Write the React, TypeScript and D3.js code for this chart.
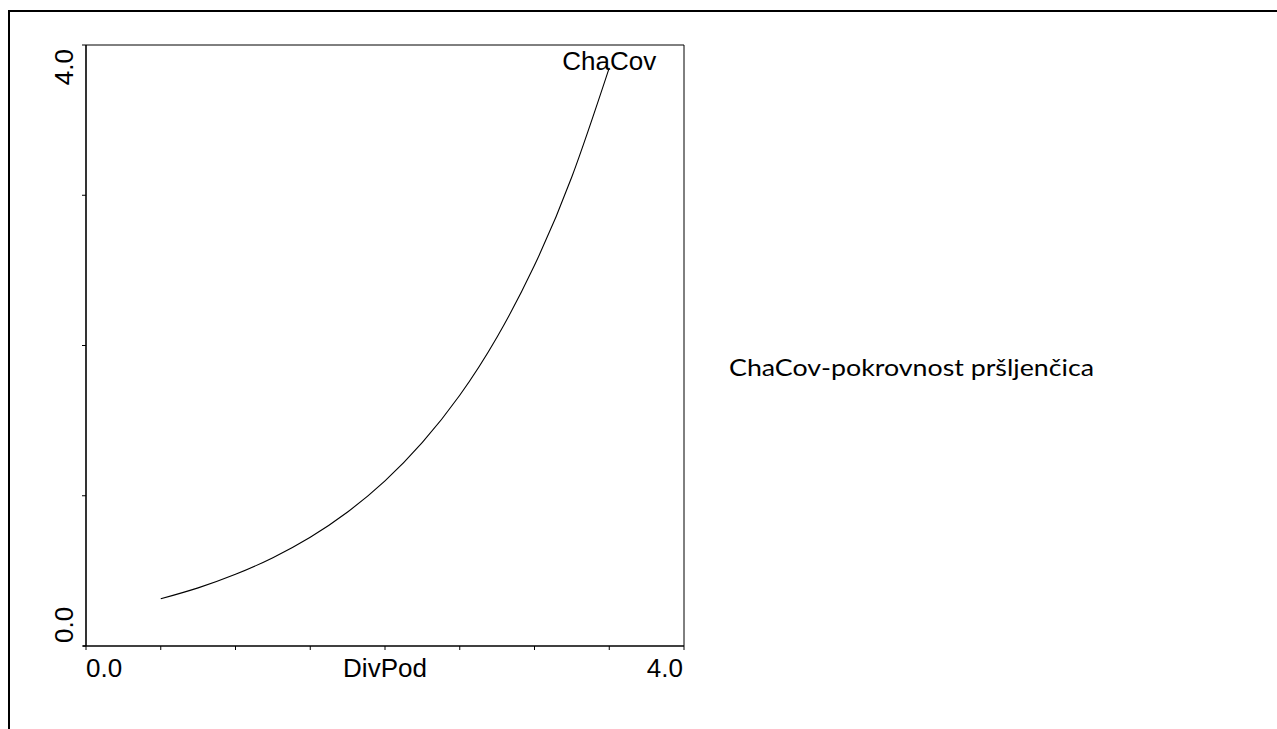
import React from "react";
import * as d3 from "d3";

const xValues = [0.5, 0.75, 1.0, 1.25, 1.5, 1.75, 2.0, 2.25, 2.5, 2.75, 3.0, 3.25, 3.5];
const chaCov = [0.314, 0.387, 0.477, 0.588, 0.724, 0.892, 1.099, 1.355, 1.669, 2.057, 2.534, 3.123, 3.848];
const xTicks = [0, 0.5, 1, 1.5, 2, 2.5, 3, 3.5, 4];
const yTicks = [0, 1, 2, 3, 4];
const xTickLabels = ["0.0", "4.0"];
const yTickLabels = ["0.0", "4.0"];
const xTitle = "DivPod";
const seriesName = "ChaCov";
const legendText = "ChaCov-pokrovnost pršljenčica";

export default function App() {
  const left = 86, right = 684, top = 45, bottom = 646;
  const x = d3.scaleLinear().domain([0, 4]).range([left, right]);
  const y = d3.scaleLinear().domain([0, 4]).range([bottom, top]);
  const pts: [number, number][] = xValues.map((v, i) => [v, chaCov[i]]);
  const line = d3
    .line<[number, number]>()
    .x((d) => x(d[0]))
    .y((d) => y(d[1]))
    .curve(d3.curveNatural);
  const last = pts[pts.length - 1];
  const font = "'Liberation Sans', Arial, sans-serif";
  return (
    <div style={{ position: "absolute", left: 0, top: 0 }}>
      <svg width={1277} height={729} style={{ display: "block", background: "#fff" }}>
        <rect x={9} y={11} width={1400} height={900} fill="none" stroke="#000" strokeWidth={2} />
        <line x1={x(0)} y1={top} x2={right} y2={top} stroke="#000" strokeWidth={1} />
        <line x1={right} y1={top} x2={right} y2={bottom} stroke="#000" strokeWidth={1} />
        <line x1={left} y1={top} x2={left} y2={bottom} stroke="#000" strokeWidth={1.6} />
        <line x1={left - 3} y1={bottom} x2={right} y2={bottom} stroke="#000" strokeWidth={1.6} />
        {xTicks.map((t) => (
          <line key={"xt" + t} x1={x(t)} y1={bottom} x2={x(t)} y2={bottom + 4} stroke="#000" strokeWidth={1} />
        ))}
        {yTicks.map((t) => (
          <line key={"yt" + t} x1={left - 4} y1={y(t)} x2={left} y2={y(t)} stroke="#000" strokeWidth={1} />
        ))}
        <text x={x(0)} y={677} fontFamily={font} fontSize={26} textAnchor="start">{xTickLabels[0]}</text>
        <text x={x(4) - 1} y={677} fontFamily={font} fontSize={26} textAnchor="end">{xTickLabels[1]}</text>
        <text x={x(2)} y={677} fontFamily={font} fontSize={26} textAnchor="middle">{xTitle}</text>
        <text transform={`translate(73,${y(0) - 3}) rotate(-90)`} fontFamily={font} fontSize={26} textAnchor="start">{yTickLabels[0]}</text>
        <text transform={`translate(73,${y(4) + 4}) rotate(-90)`} fontFamily={font} fontSize={26} textAnchor="end">{yTickLabels[1]}</text>
        <path d={line(pts) || ""} fill="none" stroke="#000" strokeWidth={1.1} />
        <text x={x(last[0])} y={70} fontFamily={font} fontSize={26} textAnchor="middle">{seriesName}</text>
        <text x={729} y={376} fontFamily="Lato, 'Open Sans', sans-serif" fontSize={23} textLength={365} lengthAdjust="spacingAndGlyphs">{legendText}</text>
      </svg>
    </div>
  );
}
